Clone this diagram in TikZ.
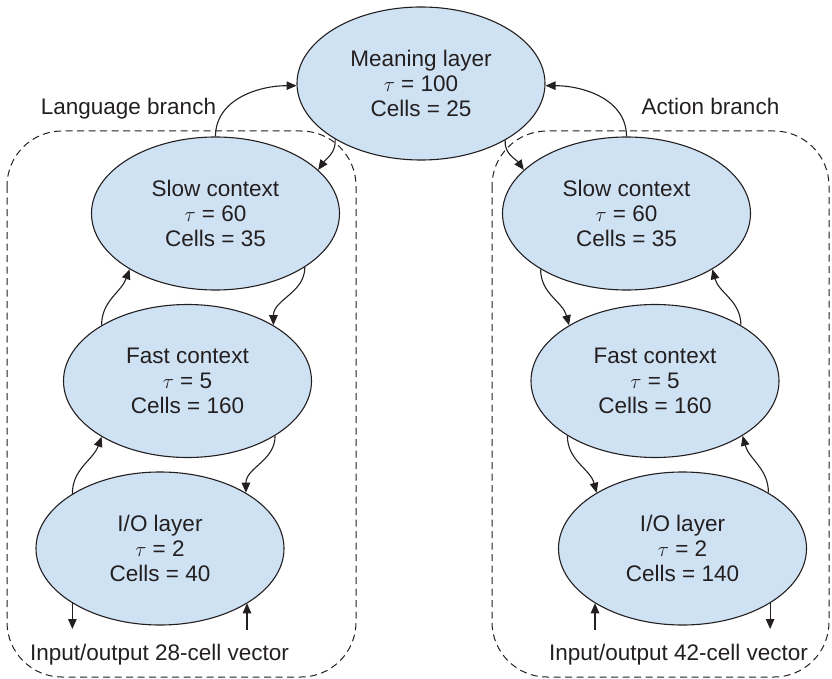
\documentclass[tikz,border=0pt]{standalone}
\usepackage{fontspec}
\setmainfont{Liberation Sans}
\usetikzlibrary{arrows.meta,shapes.geometric}
\definecolor{fillblue}{HTML}{CFE2F3}
\definecolor{ink}{HTML}{231F20}
\begin{document}
\begin{tikzpicture}[x=1pt,y=-1pt,
  layer/.style={ellipse,draw=ink,line width=1.1pt,fill=fillblue,minimum width=248pt,minimum height=153pt,inner sep=0pt,align=center,text=ink,font=\fontsize{22.5}{25}\selectfont},
  lbl/.style={text=ink,font=\fontsize{22.5}{25}\selectfont,inner sep=0pt,anchor=base},
  link/.style={draw=ink,line width=1.1pt,-{Triangle[length=10pt,width=8.5pt]}},
  branch/.style={draw=ink,line width=1pt,dash pattern=on 7pt off 4.5pt,rounded corners=55pt}]
\useasboundingbox (0,0) rectangle (832,679);
\draw[branch] (7,131) rectangle (356,677);
\draw[branch] (492,131) rectangle (829,677);
\node[layer] (M) at (421,83.5) {Meaning layer\\$\tau$ = 100\\Cells = 25};
\node[layer] (LS) at (215.5,213.5) {Slow context\\$\tau$ = 60\\Cells = 35};
\node[layer] (RS) at (626.5,213.5) {Slow context\\$\tau$ = 60\\Cells = 35};
\node[layer] (LF) at (187.5,381) {Fast context\\$\tau$ = 5\\Cells = 160};
\node[layer] (RF) at (655,381) {Fast context\\$\tau$ = 5\\Cells = 160};
\node[layer] (LI) at (160,548.5) {I/O layer\\$\tau$ = 2\\Cells = 40};
\node[layer] (RI) at (682.5,548.5) {I/O layer\\$\tau$ = 2\\Cells = 140};
\node[lbl] (lang) at (128.5,115) {Language branch};
\node[lbl] (act) at (710.5,115) {Action branch};
\node[lbl] (lio) at (159.5,660) {Input/output 28-cell vector};
\node[lbl] (rio) at (678.5,660) {Input/output 42-cell vector};
\coordinate (lout) at (73,629);
\coordinate (lin) at (247,630);
\coordinate (rin) at (595,630);
\coordinate (rout) at (769,629);
% left branch
\draw[link] (LS.90) to[out=90,in=180] (M.181);
\draw[link] (M.213) to[out=-85,in=55] (LS.23);
\draw[link] (LF.147) to[out=90,in=-110] (LS.213);
\draw[link] (LS.-31) to[out=-90,in=90] (LF.33);
\draw[link] (LI.148) to[out=90,in=-110] (LF.213);
\draw[link] (LF.-32) to[out=-90,in=90] (LI.33);
\draw[link] (LI.212) -- (LI.212 |- lout);
\draw[link] (lin) -- (lin |- LI.-32);
% right branch
\draw[link] (RS.90) to[out=90,in=0] (M.-1);
\draw[link] (M.-34) to[out=-95,in=126] (RS.157);
\draw[link] (RS.213) to[out=-90,in=105] (RF.147);
\draw[link] (RF.33) to[out=90,in=-75] (RS.-33);
\draw[link] (RF.212) to[out=-90,in=105] (RI.147);
\draw[link] (RI.33) to[out=90,in=-75] (RF.-32);
\draw[link] (rin) -- (rin |- RI.212);
\draw[link] (RI.-32) -- (RI.-32 |- rout);
\end{tikzpicture}
\end{document}
